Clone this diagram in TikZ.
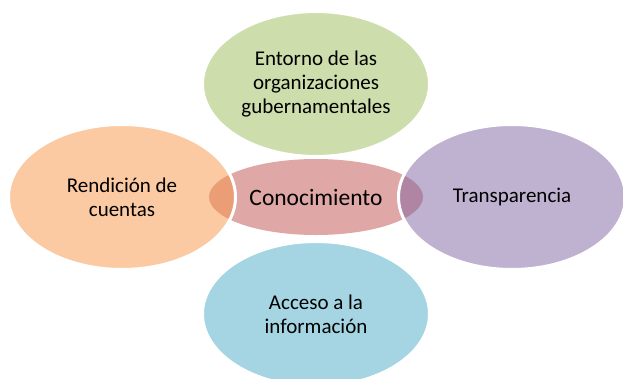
\documentclass[tikz,border=0pt]{standalone}
\usepackage{fontspec}
\usepackage{xcolor}
\setmainfont{Carlito}
\usetikzlibrary{shapes.geometric}
\definecolor{cred}{HTML}{C0504D}
\definecolor{cgreen}{HTML}{9BBB59}
\definecolor{cpurple}{HTML}{8064A2}
\definecolor{cblue}{HTML}{4BACC6}
\definecolor{corange}{HTML}{F79646}

\begin{document}
\begin{tikzpicture}[x=1pt,y=-1pt]%
  \tikzstyle{core}=[ellipse,fill=cred,fill opacity=0.5,text opacity=1,inner sep=0,
    minimum width=214pt,minimum height=76pt,font=\fontsize{23.5}{28}\selectfont]
  \tikzstyle{bubl}=[ellipse,draw=white,line width=3pt,fill opacity=0.5,text opacity=1,
    inner sep=0,minimum width=227pt,minimum height=145pt,align=center,
    font=\fontsize{21}{24}\selectfont]
  \clip (0,0) rectangle (623,378);
  \node(0)[core] at (316,197) {Conocimiento};
  \node(1)[bubl,fill=cgreen] at (316,84) {Entorno de las\\organizaciones\\gubernamentales};
  \node(2)[bubl,fill=cpurple] at (512,197) {Transparencia};
  \node(3)[bubl,fill=cblue] at (316,314) {Acceso a la\\información};
  \node(4)[bubl,fill=corange] at (122,197) {Rendición de\\cuentas};
\end{tikzpicture}
\end{document}
